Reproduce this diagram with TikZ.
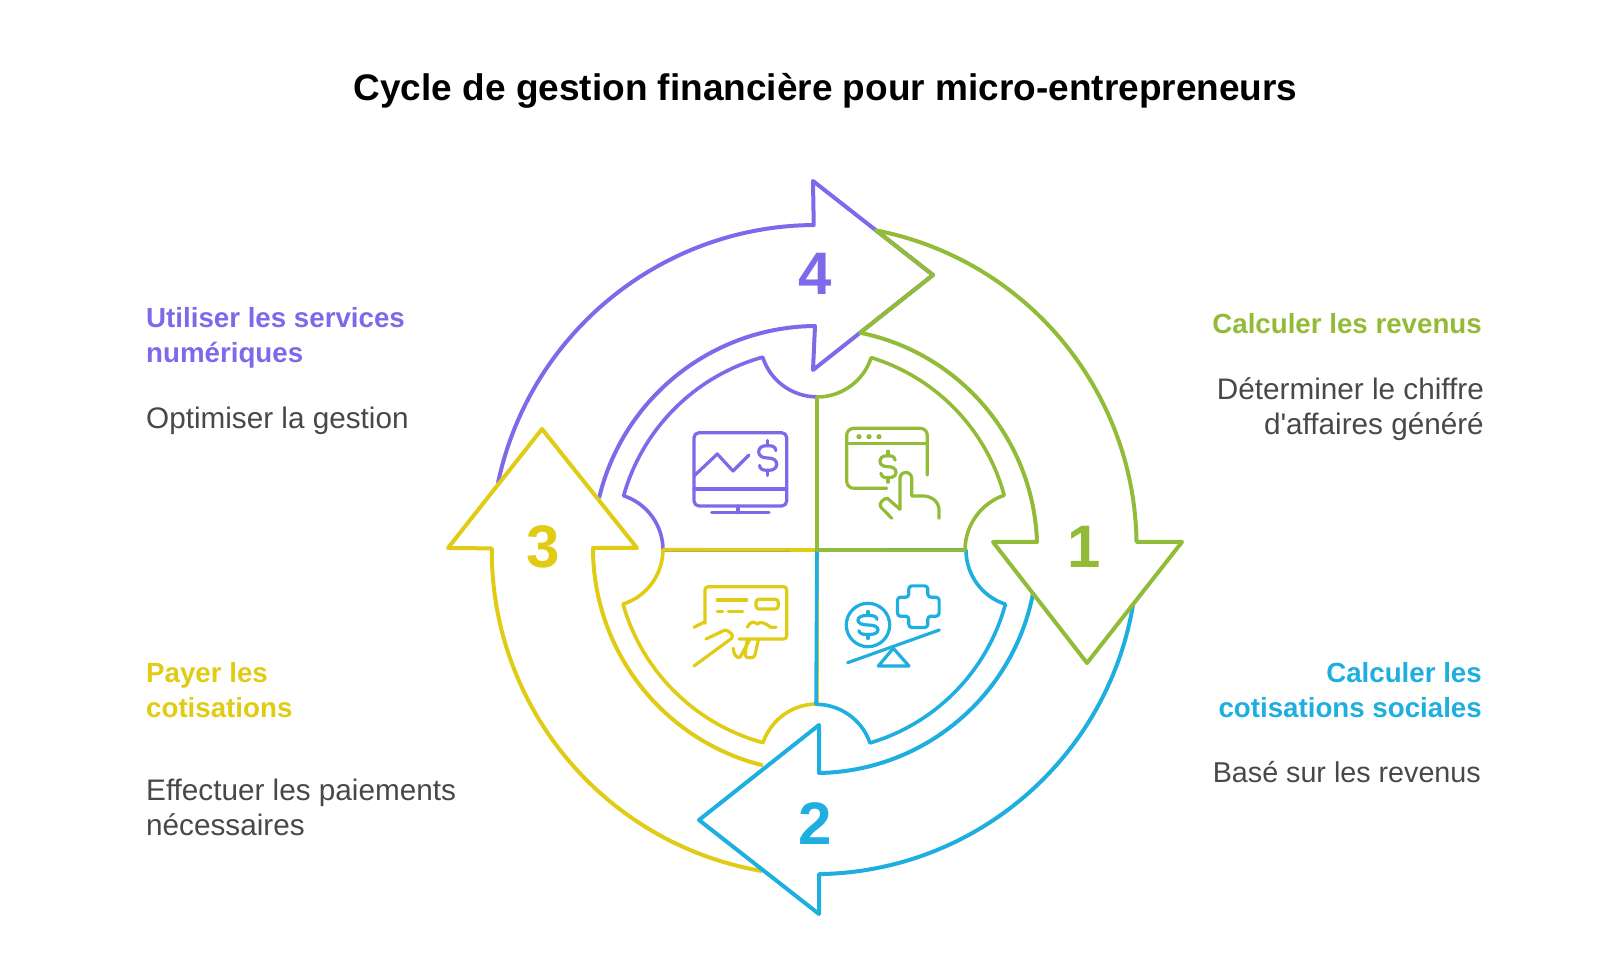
\documentclass[tikz,border=0pt]{standalone}
\usepackage{fontspec}
\setmainfont{Liberation Sans}
\newfontfamily\bodyfont{Liberation Sans}
\usetikzlibrary{calc,positioning}
\definecolor{cy-purple}{HTML}{7F68EA}
\definecolor{cy-green}{HTML}{92BC38}
\definecolor{cy-blue}{HTML}{1EAEDF}
\definecolor{cy-yellow}{HTML}{E0CB15}
\definecolor{cy-text}{HTML}{484848}
\tikzset{
    ring/.style={draw, line width=4pt, line join=round},
    part/.style={draw, line width=3.6pt, line join=round},
    iconline/.style={line width=3.2pt, line cap=round, line join=round},
    numlab/.style={inner sep=0pt, font=\fontsize{60}{60}\selectfont\bfseries},
    headleft/.style={inner sep=0pt, anchor=north west, align=left, font=\fontsize{27.7}{35}\selectfont\bfseries},
    headright/.style={inner sep=0pt, anchor=north east, align=right, font=\fontsize{27.7}{35}\selectfont\bfseries},
    bodyleft/.style={inner sep=0pt, anchor=north west, align=left, text=cy-text, font=\bodyfont\fontsize{29.7}{35}\selectfont},
    bodyright/.style={inner sep=0pt, anchor=north east, align=right, text=cy-text, font=\bodyfont\fontsize{29.7}{35}\selectfont},
    dollarsign/.pic={
        \draw (.45,.42) .. controls (.45,.6) and (.3,.7) .. (.1,.7) -- (-.1,.7) .. controls (-.35,.7) and (-.5,.55) .. (-.5,.35)
            .. controls (-.5,.12) and (-.3,0) .. (0,0) .. controls (.3,0) and (.5,-.12) .. (.5,-.35)
            .. controls (.5,-.55) and (.35,-.7) .. (.1,-.7) -- (-.1,-.7) .. controls (-.3,-.7) and (-.45,-.6) .. (-.45,-.42);
        \draw (0,.7) -- (0,1);
        \draw (0,-.7) -- (0,-1);
    },
}
\begin{document}
\begin{tikzpicture}[x=1pt,y=1pt]
    \useasboundingbox (-817,-418) rectangle (783,550);

    \node[anchor=base, font=\fontsize{37}{37}\selectfont\bfseries] (title) at (8.5,449) {Cycle de gestion financière pour micro-entrepreneurs};

    % inner quadrants
    \draw[part, cy-purple] (0,0) -- (-154,0) arc[start angle=0,end angle=72,radius=57]
        arc[start angle=164.3,end angle=105.5,radius=200]
        arc[start angle=197.7,end angle=270,radius=57] -- cycle;
    \draw[part, cy-yellow] (0,0) -- (0,-154) arc[start angle=90,end angle=161.2,radius=57]
        arc[start angle=254.8,end angle=195.8,radius=200]
        arc[start angle=-72.5,end angle=0,radius=57] -- cycle;
    \draw[part, cy-blue] (0,0) -- (149,0) arc[start angle=180,end angle=252,radius=57]
        arc[start angle=344.85,end angle=286.55,radius=199]
        arc[start angle=18.8,end angle=90,radius=57] -- cycle;
    \draw[part, cy-green] (0,0) -- (0,153) arc[start angle=270,end angle=342,radius=57]
        arc[start angle=72.9,end angle=15.1,radius=198]
        arc[start angle=109,end angle=180,radius=58] -- cycle;

    % outer arrows
    \draw[ring, cy-purple] (-319,67) arc[start angle=168.1,end angle=90.4,radius=325]
        -- (-4,369) -- (116,275) -- (-4,180) -- (-2,224)
        arc[start angle=90.5,end angle=166.6,radius=224];
    \draw[ring, cy-yellow] (-55,-321) arc[start angle=260.3,end angle=179.6,radius=325]
        -- (-369,2) -- (-275,121) -- (-180,2) -- (-224,2)
        arc[start angle=180,end angle=256,radius=224];
    \draw[ring, cy-blue] (316,-55) arc[start angle=-9.6,end angle=-89.2,radius=323]
        -- (2,-364) -- (-118,-270) -- (2,-175) -- (2,-223)
        arc[start angle=-89,end angle=-11,radius=222];
    \draw[ring, cy-green] (59,319.6) arc[start angle=79,end angle=.8,radius=322]
        -- (365,8) -- (270,-113) -- (176,8) -- (220,8)
        arc[start angle=1.9,end angle=78.5,radius=221] -- (116,275) -- cycle;

    \node[numlab, cy-green] (num1) at (267,3) {1};
    \node[numlab, cy-blue] (num2) at (-2,-274) {2};
    \node[numlab, cy-yellow] (num3) at (-274,3.5) {3};
    \node[numlab, cy-purple] (num4) at (-2,276) {4};

    % monitor
    \begin{scope}[iconline, cy-purple]
        \draw[rounded corners=5pt] (-123,117.3) rectangle (-30.3,44);
        \draw (-123,61) -- (-30.3,61);
        \draw (-79,44) -- (-79,37.3);
        \draw (-105.3,37.3) -- (-48,37.3);
        \draw (-123,74) -- (-99.7,96) -- (-84,79) -- (-68,95);
        \pic[x=18pt,y=17.5pt] at (-49.3pt,92pt) {dollarsign};
    \end{scope}

    % window and hand
    \begin{scope}[iconline, cy-green]
        \draw[rounded corners=7pt] (110.3,75) -- (110.3,121.7) -- (29.7,121.7) -- (29.7,61.7) -- (69.7,61.7);
        \draw (29.7,106.7) -- (110.3,106.7);
        \foreach \dotx in {42,52,62}
            \fill (\dotx,113.3) circle (2.6pt);
        \pic[x=16pt,y=15.5pt] at (71pt,83.3pt) {dollarsign};
        \draw (74.7,31.7) -- (64,42.7) to[out=135,in=180] (70.3,51.7) -- (83,40.7) -- (83,71.7)
            arc[start angle=180,end angle=0,radius=5.85] -- (94.7,54) -- (106.3,54) to[out=0,in=90] (122,40) -- (122,31.7);
    \end{scope}

    % scale
    \begin{scope}[iconline, cy-blue]
        \draw (51,-75) circle (21.7pt);
        \pic[x=20pt,y=13.5pt] at (51pt,-75pt) {dollarsign};
        \draw (30.7,-112.7) -- (122.3,-80);
        \draw (76.3,-98.3) -- (61.3,-116) -- (92,-116) -- cycle;
        \draw[rounded corners=3pt] (91.8,-35.9) -- (110.8,-35.9) -- (110.8,-47.2) -- (122.1,-47.2) -- (122.1,-66.2) -- (110.8,-66.2)
            -- (110.8,-77.5) -- (91.8,-77.5) -- (91.8,-66.2) -- (80.5,-66.2) -- (80.5,-47.2) -- (91.8,-47.2) -- cycle;
    \end{scope}

    % card
    \begin{scope}[iconline, cy-yellow]
        \draw[rounded corners=3pt] (-112,-73.3) -- (-112,-36.7) -- (-30.3,-36.7) -- (-30.3,-89) -- (-78,-89);
        \draw (-99.7,-50) -- (-70.3,-50);
        \draw[rounded corners=3pt] (-61,-49.3) rectangle (-38.7,-59);
        \draw (-99.7,-61.3) -- (-94.3,-61.3);
        \draw (-88.7,-61.3) -- (-74.3,-61.3);
        \draw (-69.7,-77.3) .. controls (-66,-70) and (-62,-72) .. (-60,-74) .. controls (-56,-71) and (-52,-73) .. (-46,-77.3) -- (-41,-77.3);
        \draw (-123,-77.3) -- (-112,-71.7);
        \draw (-111,-89) -- (-92,-80) to[out=-10,in=45] (-85.3,-88.3) -- (-123,-116);
        \draw (-83.7,-98.3) to[out=270,in=200] (-77,-107.3) -- (-67,-89.3);
        \draw (-69.7,-89.3) -- (-72,-105) to[out=270,in=270] (-62,-105) -- (-58.7,-90);
    \end{scope}

    \node[headleft, cy-purple] (head4) at (-671,243) {Utiliser les services\\numériques};
    \node[bodyleft] (body4) at (-671,143.5) {Optimiser la gestion};
    \node[headleft, cy-yellow] (head3) at (-671,-112) {Payer les\\cotisations};
    \node[bodyleft] (body3) at (-671,-228.5) {Effectuer les paiements\\nécessaires};
    \node[headright, cy-green] (head1) at (665,236.5) {Calculer les revenus};
    \node[bodyright] (body1) at (667,172.5) {Déterminer le chiffre\\d'affaires généré};
    \node[headright, cy-blue] (head2) at (665,-112) {Calculer les\\cotisations sociales};
    \node[bodyright, font=\bodyfont\fontsize{28.7}{35}\selectfont] (body2) at (664,-211) {Basé sur les revenus};
\end{tikzpicture}
\end{document}
